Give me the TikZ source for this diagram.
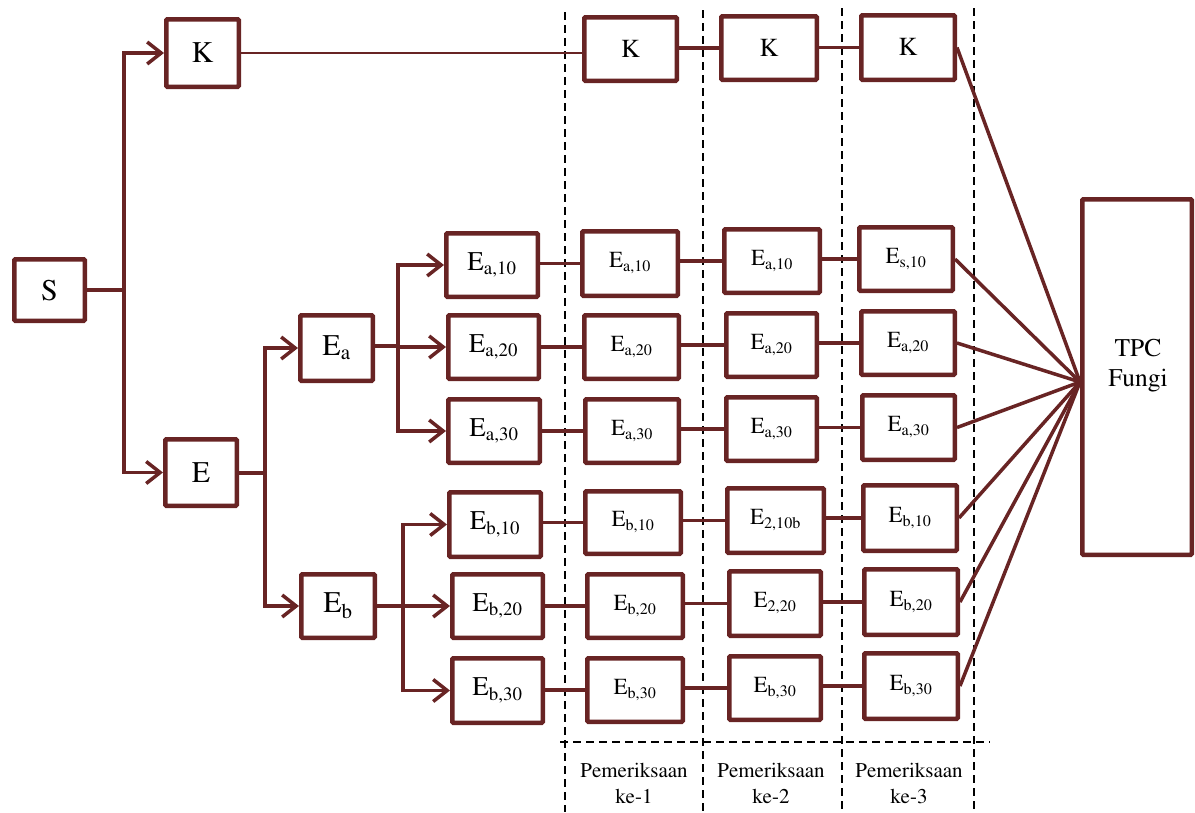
\documentclass[tikz,border=0pt]{standalone}
\usepackage[T1]{fontenc}
\usepackage{times}
\usetikzlibrary{arrows.meta}
\definecolor{maroon}{RGB}{104,36,36}

% box given by its outer corners: [options]{name}{x1}{x2}{y1}{y2}{text}
\newcommand\placebox[7][]{%
  \node[box,#1,minimum width={#4-#3-4.5},minimum height={#6-#5-4.5}]
    (#2) at ({(#3+#4)/2},{(#5+#6)/2}) {#7};}

\begin{document}
\begin{tikzpicture}[x=1pt,y=-1pt,
  box/.style={draw=maroon,line width=4.5pt,fill=white,inner sep=0pt,
    align=center,rounded corners=1pt},
  big/.style={font=\rmfamily\fontsize{30}{34}\selectfont},
  mid/.style={font=\rmfamily\fontsize{27}{32}\selectfont},
  small/.style={font=\rmfamily\fontsize{23}{28}\selectfont},
  kfont/.style={font=\rmfamily\fontsize{26}{30}\selectfont},
  link/.style={draw=maroon,line width=3.5pt},
  arr/.style={link,-{Straight Barb[length=14pt,width=22pt]}},
  sep/.style={draw=black,line width=1.6pt,dash pattern=on 8pt off 5pt},
  lbl/.style={font=\rmfamily\fontsize{21}{26}\selectfont,align=center,inner sep=0pt}]

\useasboundingbox (0,0) rectangle (1195,812);

% column separators
\draw[sep] (565,12) -- (565,812);
\draw[sep] (703,10) -- (703,812);
\draw[sep] (842,8) -- (842,812);
\draw[sep] (974,8) -- (974,812);
\draw[sep] (560,742) -- (990,742);

% sample and first split
\placebox[big]{S}{12}{87}{257}{323}{S}
\placebox[big]{K1}{164}{241}{17}{89}{K}
\placebox[big]{E}{163}{239}{437}{508}{E}
\placebox[big]{Ea}{298}{375}{313}{383}{E\textsubscript{a}}
\placebox[big]{Eb}{299}{377}{572}{640}{E\textsubscript{b}}

% first column of concentrations
\placebox[mid]{a10}{444}{540}{231}{299}{E\textsubscript{a,10}}
\placebox[mid]{a20}{446}{541}{313}{381}{E\textsubscript{a,20}}
\placebox[mid]{a30}{446}{542}{397}{465}{E\textsubscript{a,30}}
\placebox[mid]{b10}{447}{543}{490}{559}{E\textsubscript{b,10}}
\placebox[mid]{b20}{450}{545}{572}{640}{E\textsubscript{b,20}}
\placebox[mid]{b30}{450}{545}{656}{725}{E\textsubscript{b,30}}

% Pemeriksaan ke-1
\placebox[kfont]{K2}{582}{679}{15}{83}{K}
\placebox[small]{a10p1}{580}{680}{229}{298}{E\textsubscript{a,10}}
\placebox[small]{a20p1}{582}{681}{313}{381}{E\textsubscript{a,20}}
\placebox[small]{a30p1}{583}{681}{397}{465}{E\textsubscript{a,30}}
\placebox[small]{b10p1}{583}{683}{489}{556}{E\textsubscript{b,10}}
\placebox[small]{b20p1}{585}{685}{572}{640}{E\textsubscript{b,20}}
\placebox[small]{b30p1}{585}{685}{656}{724}{E\textsubscript{b,30}}

% Pemeriksaan ke-2
\placebox[kfont]{K3}{719}{819}{14}{82}{K}
\placebox[small]{a10p2}{722}{822}{227}{295}{E\textsubscript{a,10}}
\placebox[small]{a20p2}{724}{819}{311}{379}{E\textsubscript{a,20}}
\placebox[small]{a30p2}{724}{819}{395}{463}{E\textsubscript{a,30}}
\placebox[small]{b10p2}{725}{826}{486}{555}{E\textsubscript{2,10b}}
\placebox[small]{b20p2}{727}{823}{569}{638}{E\textsubscript{2,20}}
\placebox[small]{b30p2}{727}{823}{654}{722}{E\textsubscript{b,30}}

% Pemeriksaan ke-3
\placebox[kfont]{K4}{859}{957}{13}{82}{K}
\placebox[small]{a10p3}{857}{955}{225}{293}{E\textsubscript{s,10}}
\placebox[small]{a20p3}{859}{957}{309}{377}{E\textsubscript{a,20}}
\placebox[small]{a30p3}{860}{957}{393}{462}{E\textsubscript{a,30}}
\placebox[small]{b10p3}{861}{959}{483}{553}{E\textsubscript{b,10}}
\placebox[small]{b20p3}{862}{960}{567}{637}{E\textsubscript{b,20}}
\placebox[small]{b30p3}{862}{960}{651}{721}{E\textsubscript{b,30}}

% result box
\placebox{TPC}{1080}{1194}{197}{557}{}
\node[font=\rmfamily\fontsize{25.5}{30}\selectfont,align=center,inner sep=0pt]
  (tpclabel) at (1138,366) {TPC\\Fungi};

% branching points
\coordinate (j1) at (124,290);
\coordinate (j2) at (265,473);
\coordinate (j3) at (398,346);
\coordinate (j4) at (403,606);

\draw[link] (S.east) -- (j1);
\draw[arr] (j1) |- (K1);
\draw[arr] (j1) |- (E);

\draw[link] (E.east |- j2) -- (j2);
\draw[arr] (j2) |- (Ea);
\draw[arr] (j2) |- (Eb);

\draw[link] (Ea.east |- j3) -- (j3);
\draw[arr] (j3) |- (a10);
\draw[arr] (j3) |- (a20);
\draw[arr] (j3) |- (a30);

\draw[link] (Eb.east) -- (j4);
\draw[arr] (j4) |- (b10);
\draw[arr] (j4) |- (b20);
\draw[arr] (j4) |- (b30);

% rows across the observation periods
\draw[link,line width=2.8pt] (K1.east) -- (K1.east -| K2.west);
\draw[link] (K3.west -| K2.east) -- (K3.west);
\draw[link] (K4.west -| K3.east) -- (K4.west);
\foreach \r in {a10,a20,a30,b10,b20,b30}{
  \draw[link] (\r p1.west -| \r.east) -- (\r p1.west);
  \draw[link] (\r p2.west -| \r p1.east) -- (\r p2.west);
  \draw[link] (\r p3.west -| \r p2.east) -- (\r p3.west);
}

% all final samples feed the TPC count
\coordinate (hub) at ([yshift=-5pt]TPC.west);
\foreach \n in {K4,a10p3,a20p3,a30p3,b10p3,b20p3,b30p3}
  \draw[link] (\n.east) -- (hub);

% period labels
\node[lbl] (l1) at (634,783) {Pemeriksaan\\ke-1};
\node[lbl] (l2) at (771,783) {Pemeriksaan\\ke-2};
\node[lbl] (l3) at (909,783) {Pemeriksaan\\ke-3};
\end{tikzpicture}
\end{document}
